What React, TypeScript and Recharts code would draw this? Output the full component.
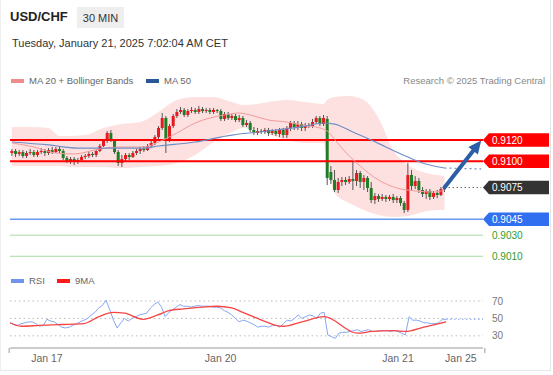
import {
  ComposedChart,
  Bar,
  Line,
  Area,
  XAxis,
  YAxis,
  ReferenceLine,
} from "recharts";

const FONT = "'Liberation Sans', Arial, sans-serif";

// 30 min candles, index 0..118
const opens = [
  0.91077, 0.91096, 0.91068, 0.91086, 0.91049, 0.91077, 0.91086, 0.91058, 0.91086, 0.91096,
  0.91077, 0.91105, 0.91086, 0.91115, 0.91096, 0.9103, 0.91001, 0.9102, 0.90992, 0.91011,
  0.91039, 0.91049, 0.91068, 0.91058, 0.91096, 0.91143, 0.91191, 0.91266, 0.91191, 0.91086,
  0.90982, 0.9102, 0.91058, 0.91039, 0.91077, 0.91096, 0.91115, 0.91105, 0.91143, 0.91172,
  0.91228, 0.91314, 0.91408, 0.912, 0.91332, 0.91427, 0.91465, 0.91484, 0.91437, 0.91474,
  0.91484, 0.91465, 0.91493, 0.91474, 0.91484, 0.91465, 0.91484, 0.91474, 0.91399, 0.91446,
  0.91408, 0.91427, 0.91389, 0.91408, 0.91342, 0.91361, 0.91295, 0.91266, 0.91285, 0.91276,
  0.91295, 0.91266, 0.91285, 0.91257, 0.91295, 0.91247, 0.91314, 0.91361, 0.91323, 0.91351,
  0.91314, 0.91342, 0.91332, 0.9137, 0.91408, 0.91351, 0.91399, 0.90897, 0.90822, 0.90727,
  0.90803, 0.90822, 0.90803, 0.90831, 0.90812, 0.90888, 0.90803, 0.90841, 0.90746, 0.90632,
  0.9067, 0.90642, 0.90661, 0.90642, 0.90661, 0.90632, 0.90651, 0.90604, 0.90538, 0.90869,
  0.90765, 0.90812, 0.90727, 0.90689, 0.90718, 0.90661, 0.90699, 0.9068, 0.90736,
];
const closes = [
  0.91096, 0.91068, 0.91086, 0.91049, 0.91077, 0.91086, 0.91058, 0.91086, 0.91096, 0.91077,
  0.91105, 0.91086, 0.91115, 0.91096, 0.9103, 0.91001, 0.9102, 0.90992, 0.91011, 0.91039,
  0.91049, 0.91068, 0.91058, 0.91096, 0.91143, 0.91191, 0.91266, 0.91191, 0.91086, 0.90982,
  0.9102, 0.91058, 0.91039, 0.91077, 0.91096, 0.91115, 0.91105, 0.91143, 0.91172, 0.91228,
  0.91314, 0.91408, 0.912, 0.91332, 0.91427, 0.91465, 0.91484, 0.91437, 0.91474, 0.91484,
  0.91465, 0.91493, 0.91474, 0.91484, 0.91465, 0.91484, 0.91474, 0.91399, 0.91446, 0.91408,
  0.91427, 0.91389, 0.91408, 0.91342, 0.91361, 0.91295, 0.91266, 0.91285, 0.91276, 0.91295,
  0.91266, 0.91285, 0.91257, 0.91295, 0.91247, 0.91314, 0.91361, 0.91323, 0.91351, 0.91314,
  0.91342, 0.91332, 0.9137, 0.91408, 0.91351, 0.91408, 0.90841, 0.90822, 0.90727, 0.90803,
  0.90822, 0.90803, 0.90831, 0.90812, 0.90888, 0.90803, 0.90841, 0.90746, 0.90632, 0.9067,
  0.90642, 0.90661, 0.90642, 0.90661, 0.90632, 0.90651, 0.90604, 0.90538, 0.90869, 0.90765,
  0.90812, 0.90727, 0.90689, 0.90718, 0.90661, 0.90699, 0.9068, 0.90736, 0.90751,
];
const highs = [
  0.91115, 0.91115, 0.91105, 0.91105, 0.91096, 0.91115, 0.91105, 0.91105, 0.91124, 0.91115,
  0.91124, 0.91134, 0.91134, 0.91134, 0.91115, 0.91049, 0.91039, 0.91039, 0.9103, 0.91058,
  0.91068, 0.91086, 0.91086, 0.91105, 0.91162, 0.91209, 0.91285, 0.91295, 0.91209, 0.91105,
  0.91058, 0.91077, 0.91077, 0.91096, 0.91115, 0.91134, 0.91143, 0.91162, 0.91191, 0.91247,
  0.91332, 0.91455, 0.91427, 0.91351, 0.91446, 0.91493, 0.91512, 0.91503, 0.91493, 0.91512,
  0.91503, 0.91522, 0.91512, 0.91503, 0.91503, 0.91503, 0.91493, 0.91493, 0.91465, 0.91465,
  0.91446, 0.91446, 0.91437, 0.91427, 0.91389, 0.9138, 0.91323, 0.91314, 0.91304, 0.91314,
  0.91314, 0.91304, 0.91304, 0.91314, 0.91314, 0.91332, 0.9138, 0.9138, 0.9138, 0.9137,
  0.91361, 0.91361, 0.91399, 0.91427, 0.91427, 0.91437, 0.91427, 0.90954, 0.90916, 0.90841,
  0.9085, 0.9085, 0.90859, 0.90992, 0.90916, 0.90907, 0.90869, 0.90859, 0.90803, 0.90699,
  0.90689, 0.90689, 0.9068, 0.9068, 0.90689, 0.9067, 0.9067, 0.90623, 0.90982, 0.90916,
  0.90859, 0.90841, 0.90755, 0.90736, 0.90736, 0.90718, 0.90727, 0.90755, 0.90774,
];
const lows = [
  0.91049, 0.91039, 0.91049, 0.9103, 0.9103, 0.91058, 0.91039, 0.91039, 0.91068, 0.91049,
  0.91058, 0.91068, 0.91077, 0.91077, 0.91011, 0.90982, 0.90973, 0.90963, 0.90973, 0.91001,
  0.9102, 0.9103, 0.91039, 0.91039, 0.91086, 0.91134, 0.91172, 0.91181, 0.91068, 0.90954,
  0.90945, 0.91001, 0.91011, 0.9103, 0.91058, 0.91068, 0.91086, 0.91096, 0.91124, 0.91153,
  0.91209, 0.91295, 0.91077, 0.91181, 0.91314, 0.91408, 0.91446, 0.91418, 0.91418, 0.91455,
  0.91446, 0.91446, 0.91455, 0.91455, 0.91446, 0.91446, 0.91455, 0.9138, 0.9138, 0.91389,
  0.91389, 0.9137, 0.9137, 0.91323, 0.91323, 0.91276, 0.91247, 0.91247, 0.91257, 0.91257,
  0.91238, 0.91247, 0.91238, 0.91228, 0.91219, 0.91219, 0.91285, 0.91295, 0.91295, 0.91285,
  0.91285, 0.91314, 0.91314, 0.91351, 0.91332, 0.91332, 0.90774, 0.90784, 0.90708, 0.90699,
  0.90765, 0.90774, 0.90784, 0.90727, 0.90765, 0.90746, 0.90727, 0.90708, 0.90604, 0.90595,
  0.90614, 0.90623, 0.90614, 0.90623, 0.90604, 0.90604, 0.90576, 0.90509, 0.90519, 0.90727,
  0.90736, 0.90699, 0.90661, 0.90642, 0.90632, 0.90642, 0.90651, 0.9067, 0.90708,
];

// [index, value]
const ma20Points = [
  [0, 0.91172], [6, 0.91134], [12, 0.91077], [17, 0.91068], [24, 0.91115], [30, 0.91134],
  [36, 0.91134], [40, 0.91181], [45, 0.91266], [50, 0.91361], [54, 0.91408], [58, 0.91437],
  [62, 0.91455], [66, 0.91427], [70, 0.91389], [75, 0.9137], [79, 0.91342], [84, 0.91314],
  [86, 0.91285], [88, 0.91209], [90, 0.91124], [95, 0.90954], [100, 0.90822], [105, 0.90746],
  [110, 0.90718], [115, 0.90708], [118, 0.90727],
];
const ma50Points = [
  [0, 0.91181], [10, 0.91153], [18, 0.91124], [30, 0.91124], [36, 0.91124], [40, 0.91143],
  [50, 0.91181], [57, 0.91228], [60, 0.91247], [70, 0.91285], [80, 0.91332], [85, 0.91361],
  [88, 0.91351], [93, 0.91276], [98, 0.912], [102, 0.91134], [108, 0.91039], [112, 0.90982],
  [118, 0.90935],
];
const ma50Projection = [[118, 0.90935], [128, 0.90926]];
// [index, lower, upper]
const bandPoints = [
  [0, 0.90954, 0.91323], [5, 0.90954, 0.91323], [10, 0.90954, 0.91314], [13, 0.90954, 0.91238],
  [16, 0.90945, 0.91238], [20, 0.90945, 0.91247], [25, 0.90945, 0.91314], [30, 0.90935, 0.91351],
  [35, 0.90945, 0.9137], [40, 0.90954, 0.91465], [45, 0.90982, 0.91578], [50, 0.91058, 0.91607],
  [55, 0.91181, 0.91607], [60, 0.91276, 0.91559], [63, 0.91314, 0.91531], [67, 0.91295, 0.9154],
  [70, 0.91257, 0.91559], [75, 0.912, 0.91578], [80, 0.91172, 0.91559], [85, 0.91172, 0.9154],
  [86, 0.91011, 0.91578], [88, 0.90699, 0.91607], [92, 0.90604, 0.91616], [96, 0.90538, 0.91578],
  [100, 0.9049, 0.91408], [104, 0.90472, 0.91105], [108, 0.90481, 0.90963], [112, 0.90519, 0.90897],
  [116, 0.90538, 0.90869], [118, 0.90538, 0.90859],
];

const rsiValues = [
  45, 43, 42, 44, 45, 46, 46, 44, 41, 42, 49, 47, 46, 43, 40, 39, 40, 42, 44, 46,
  48, 50, 54, 57, 62, 65, 71, 60, 48, 39, 45, 50, 47, 50, 52, 54, 55, 56, 62, 66,
  69, 63, 52, 57, 60, 63, 66, 64, 64, 63, 64, 65, 64, 64, 64, 63, 63, 62, 59, 57,
  54, 50, 46, 48, 47, 45, 43, 40, 41, 41, 40, 42, 42, 40, 44, 48, 47, 50, 54, 50,
  52, 54, 53, 50, 56, 57, 31, 29, 27, 33, 34, 34, 35, 36, 37, 35, 36, 37, 35, 35,
  36, 36, 36, 35, 36, 35, 33, 31, 52, 48, 48, 47, 45, 45, 44, 44, 45, 49, 49,
];
const rsiProjection = [[118, 49], [128, 49]];
const rsiMaPoints = [
  [0, 45], [3, 41], [8, 42], [14, 43], [20, 44], [24, 52], [28, 57], [31, 56], [36, 49],
  [40, 54], [43, 59], [47, 61], [52, 63], [56, 64], [60, 62], [63, 57], [67, 50], [70, 45],
  [72, 42], [74, 41], [79, 46], [85, 52], [94, 33], [98, 35], [104, 36], [107, 35],
  [112, 40], [118, 46],
];

const SLOTS = 129;
const LAST_PRICE = 0.9075;
const TARGET_PRICE = 0.91195;

const levels = [
  { value: 0.912, label: "0.9120", kind: "res" },
  { value: 0.91, label: "0.9100", kind: "res" },
  { value: 0.9045, label: "0.9045", kind: "pivot" },
  { value: 0.903, label: "0.9030", kind: "sup" },
  { value: 0.901, label: "0.9010", kind: "sup" },
];
const rsiLevels = [70, 50, 30];
const dateTicks = [
  { i: 0, label: "" },
  { i: 10, label: "Jan 17" },
  { i: 57, label: "Jan 20" },
  { i: 105, label: "Jan 21" },
  { i: 122, label: "Jan 25" },
  { i: 128, label: "" },
];

const RED = "#e8191e";
const GREEN = "#1f7d24";
const BAND = 473 / SLOTS;

const toMap = (pts: number[][]) => new Map(pts.map((p) => [p[0], p.slice(1)]));
const ma20Map = toMap(ma20Points);
const ma50Map = toMap(ma50Points);
const ma50ProjMap = toMap(ma50Projection);
const bandMap = toMap(bandPoints);
const rsiMaMap = toMap(rsiMaPoints);
const rsiProjMap = toMap(rsiProjection);

const priceData = Array.from({ length: SLOTS }, (_, i) => {
  const has = i < closes.length;
  const band = bandMap.get(i);
  return {
    i,
    open: has ? opens[i] : null,
    close: has ? closes[i] : null,
    high: has ? highs[i] : null,
    low: has ? lows[i] : null,
    range: has ? [lows[i], highs[i]] : null,
    ma20: ma20Map.get(i)?.[0] ?? null,
    ma50: ma50Map.get(i)?.[0] ?? null,
    ma50p: ma50ProjMap.get(i)?.[0] ?? null,
    band: band ? [band[0], band[1]] : null,
  };
});

const rsiData = Array.from({ length: SLOTS }, (_, i) => ({
  i,
  rsi: i < rsiValues.length ? rsiValues[i] : null,
  rsiMa: rsiMaMap.get(i)?.[0] ?? null,
  rsiP: rsiProjMap.get(i)?.[0] ?? null,
}));

function Candle(props: any) {
  const { x, y, width, height, payload } = props;
  if (!payload || payload.open == null) return null;
  const { open, close, high, low } = payload;
  const top = Math.min(y, y + height);
  const h = Math.abs(height);
  const span = high - low || 1;
  const py = (v: number) => top + ((high - v) / span) * h;
  const cx = x + width / 2;
  const up = close >= open;
  const bodyTop = py(Math.max(open, close));
  const bodyH = Math.max(1, Math.abs(py(open) - py(close)));
  return (
    <g>
      <line x1={cx} x2={cx} y1={top} y2={top + h} stroke="#555" strokeWidth={1} />
      <rect x={cx - 1.5} y={bodyTop} width={3} height={bodyH} fill={up ? RED : GREEN} />
    </g>
  );
}

function PriceTag(props: any) {
  const { viewBox, text, bg, color } = props;
  if (!viewBox) return null;
  const x = viewBox.x + viewBox.width;
  const y = viewBox.y;
  if (!bg) {
    return (
      <text x={x + 9} y={y} dy="0.36em" fontSize={10} fill={color} fontFamily={FONT}>
        {text}
      </text>
    );
  }
  const h = 13.5;
  return (
    <g>
      <path
        d={`M${x},${y} L${x + 6},${y - h / 2} L549,${y - h / 2} L549,${y + h / 2} L${x + 6},${y + h / 2} Z`}
        fill={bg}
      />
      <text x={x + 9} y={y} dy="0.36em" fontSize={10} fill="#fff" fontFamily={FONT}>
        {text}
      </text>
    </g>
  );
}

function RsiLabel(props: any) {
  const { viewBox, text } = props;
  if (!viewBox) return null;
  return (
    <text x={viewBox.x + viewBox.width + 9} y={viewBox.y} dy="0.36em" fontSize={10} fill="#777" fontFamily={FONT}>
      {text}
    </text>
  );
}

function ArrowShape(props: any) {
  const { x1, y1, x2, y2 } = props;
  if (x1 == null) return null;
  const ang = Math.atan2(y2 - y1, x2 - x1);
  const len = 13;
  const hw = 6;
  const bx = x2 - len * Math.cos(ang);
  const by = y2 - len * Math.sin(ang);
  const px = -Math.sin(ang) * hw;
  const py = Math.cos(ang) * hw;
  return (
    <g>
      <line x1={x1} y1={y1} x2={bx} y2={by} stroke="#2c5ea8" strokeWidth={4} strokeLinecap="round" />
      <path d={`M${x2},${y2} L${bx + px},${by + py} L${bx - px},${by - py} Z`} fill="#2c5ea8" />
    </g>
  );
}

function DateTick(props: any) {
  const { x, y, payload } = props;
  const t = dateTicks.find((d) => d.i === payload.value);
  if (!t) return null;
  if (t.label === "") {
    const lx = t.i === 0 ? x - BAND / 2 + 1 : x + BAND / 2;
    return <line x1={lx} x2={lx} y1={y - 8} y2={y - 3} stroke="#999" strokeWidth={1} />;
  }
  return (
    <text x={x} y={y} dy="0.6em" textAnchor="middle" fontSize={10.5} fill="#666" fontFamily={FONT}>
      {t.label}
    </text>
  );
}

function LegendItem({ color, text, x, y }: { color: string; text: string; x: number; y: number }) {
  return (
    <div style={{ position: "absolute", left: x, top: y, display: "flex", alignItems: "center", gap: 5 }}>
      <span style={{ width: 13, height: 4, background: color, display: "inline-block" }} />
      <span style={{ fontSize: 9.5, color: "#666" }}>{text}</span>
    </div>
  );
}

export default function App() {
  return (
    <div
      style={{
        position: "absolute",
        left: 0,
        top: 0,
        width: 553,
        height: 375,
        background: "#fff",
        fontFamily: FONT,
        overflow: "hidden",
      }}
    >
      <div
        style={{
          position: "absolute",
          left: 0,
          top: -1,
          width: 549,
          height: 371,
          borderRight: "1px solid #e6e6e6",
          borderBottom: "1px solid #e6e6e6",
          borderLeft: "1px solid #eeeeee",
        }}
      />
      <div style={{ position: "absolute", left: 10, top: 9, fontSize: 13, fontWeight: 700, color: "#222" }}>
        USD/CHF
      </div>
      <div
        style={{
          position: "absolute",
          left: 77,
          top: 7,
          width: 47,
          height: 21,
          background: "#eeeeee",
          fontSize: 11,
          color: "#333",
          display: "flex",
          alignItems: "center",
          justifyContent: "center",
        }}
      >
        30 MIN
      </div>
      <div style={{ position: "absolute", left: 12, top: 37, fontSize: 11, color: "#333" }}>
        Tuesday, January 21, 2025 7:02:04 AM CET
      </div>

      <LegendItem color="#f28c8c" text="MA 20 + Bollinger Bands" x={11} y={75} />
      <LegendItem color="#2b5797" text="MA 50" x={146} y={75} />
      <div style={{ position: "absolute", right: 8, top: 75, fontSize: 9.5, color: "#888" }}>
        Research © 2025 Trading Central
      </div>

      <div style={{ position: "absolute", left: 0, top: 0 }}>
        <ComposedChart
          width={553}
          height={270}
          data={priceData}
          margin={{ top: 92.44, right: 70, bottom: 3.16, left: 10 }}
        >
          <XAxis dataKey="i" type="category" hide />
          <YAxis type="number" domain={[0.9, 0.9165]} allowDataOverflow hide />
          <Area
            dataKey="band"
            type="monotone"
            stroke="none"
            fill="#fcd6d6"
            fillOpacity={0.75}
            connectNulls
            isAnimationActive={false}
          />
          {levels.map((l) => (
            <ReferenceLine
              key={l.label}
              y={l.value}
              stroke={l.kind === "res" ? "#ff0000" : l.kind === "pivot" ? "#6b9cf2" : "#a9d8a4"}
              strokeWidth={l.kind === "res" ? 2 : l.kind === "pivot" ? 1.5 : 1}
              label={
                <PriceTag
                  text={l.label}
                  bg={l.kind === "res" ? "#ff0000" : l.kind === "pivot" ? "#2f6ff0" : undefined}
                  color="#2e9b2e"
                />
              }
            />
          ))}
          <ReferenceLine
            y={LAST_PRICE}
            stroke="none"
            label={<PriceTag text="0.9075" bg="#333333" />}
          />
          <ReferenceLine
            segment={[{ x: 118, y: LAST_PRICE }, { x: 128, y: LAST_PRICE }]}
            stroke="#666"
            strokeDasharray="1.5 2.5"
          />
          <Line dataKey="ma20" type="monotone" stroke="#f29a9a" strokeWidth={1} dot={false} connectNulls isAnimationActive={false} />
          <Line dataKey="ma50" type="monotone" stroke="#6f8fc6" strokeWidth={1.2} dot={false} connectNulls isAnimationActive={false} />
          <Line dataKey="ma50p" stroke="#6f8fc6" strokeWidth={1.2} strokeDasharray="2 3" dot={false} connectNulls isAnimationActive={false} />
          <Bar dataKey="range" isAnimationActive={false} shape={(p: any) => <Candle {...p} />} />
          <ReferenceLine
            segment={[{ x: 118, y: LAST_PRICE }, { x: 128, y: TARGET_PRICE }]}
            shape={(p: any) => <ArrowShape {...p} />}
          />
        </ComposedChart>
      </div>

      <LegendItem color="#6f94ee" text="RSI" x={11} y={275} />
      <LegendItem color="#ff1a1a" text="9MA" x={57} y={275} />

      <div style={{ position: "absolute", left: 0, top: 270 }}>
        <ComposedChart
          width={553}
          height={100}
          data={rsiData}
          margin={{ top: 18.85, right: 70, bottom: 0, left: 10 }}
        >
          <XAxis
            dataKey="i"
            type="category"
            height={22}
            axisLine={{ stroke: "#999" }}
            tickLine={false}
            ticks={dateTicks.map((d) => d.i)}
            interval={0}
            tick={<DateTick />}
          />
          <YAxis type="number" domain={[16, 84]} allowDataOverflow hide />
          {rsiLevels.map((v) => (
            <ReferenceLine
              key={v}
              y={v}
              stroke="#bbb"
              strokeDasharray="1.5 3"
              label={<RsiLabel text={String(v)} />}
            />
          ))}
          <Line dataKey="rsi" stroke="#86a6f0" strokeWidth={1} dot={false} isAnimationActive={false} />
          <Line dataKey="rsiP" stroke="#86a6f0" strokeWidth={1} strokeDasharray="1.5 2.5" dot={false} connectNulls isAnimationActive={false} />
          <Line dataKey="rsiMa" type="monotone" stroke="#f54545" strokeWidth={1.3} dot={false} connectNulls isAnimationActive={false} />
        </ComposedChart>
      </div>
    </div>
  );
}
